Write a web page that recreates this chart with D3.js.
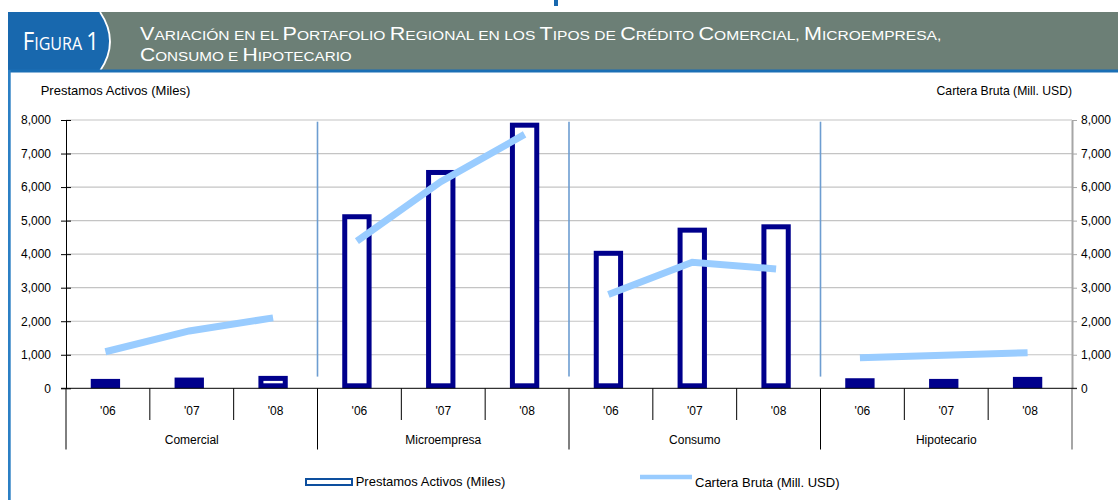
<!DOCTYPE html>
<html><head><meta charset="utf-8">
<script src="https://cdn.jsdelivr.net/npm/d3@7"></script>
<style>body{margin:0;background:#fff}svg{display:block}</style>
</head><body>
<svg id="c" width="1118" height="500"></svg>
<script>
// ---- data ----
const groups = ["Comercial", "Microempresa", "Consumo", "Hipotecario"];
const years = ["'06", "'07", "'08"];
const prestamos = [280, 320, 370, 5190, 6510, 7920, 4100, 4790, 4890, 300, 280, 340];
const cartera = [1090, 1710, 2100, 4390, 6160, 7570, 2800, 3760, 3560, 910, 985, 1060];
const yTicks = [0, 1000, 2000, 3000, 4000, 5000, 6000, 7000, 8000];
const figLabel = "Figura 1";
const titleLines = ["Variación en el Portafolio Regional en los Tipos de Crédito Comercial, Microempresa,", "Consumo e Hipotecario"];
const leftTitle = "Prestamos Activos (Miles)";
const rightTitle = "Cartera Bruta (Mill. USD)";
const legendLabels = ["Prestamos Activos (Miles)", "Cartera Bruta (Mill. USD)"];

// ---- layout ----
const svg = d3.select("#c");
const X0 = 66, X1 = 1072, YT = 120, YB = 388.3;
const FONT = "'Liberation Sans', Arial, sans-serif";
const n = groups.length * years.length;
const x = d3.scaleBand().domain(d3.range(n)).range([X0, X1]).padding(0);
const y = d3.scaleLinear().domain([0, 8000]).range([YB, YT]);
const bw = x.bandwidth();
const barW = bw * 0.35;
const shift = -2.5;
const NAVY = "#00008c";

// ---- header ----
svg.append("rect").attr("x", 554).attr("y", 0).attr("width", 4).attr("height", 6).attr("fill", "#1868ae");
svg.append("rect").attr("x", 8).attr("y", 12).attr("width", 1110).attr("height", 59).attr("fill", "#6c7f76");
svg.append("path").attr("d", "M8,12H100Q120,41.5 100,71H8Z").attr("fill", "#1868ae");
svg.append("path").attr("d", "M100,12Q120,41.5 100,71").attr("fill", "none").attr("stroke", "#fff").attr("stroke-width", 1.8);
svg.append("rect").attr("x", 8).attr("y", 69.5).attr("width", 1110).attr("height", 3).attr("fill", "#1a6fb5");
svg.append("rect").attr("x", 8).attr("y", 70).attr("width", 2.7).attr("height", 430).attr("fill", "#2b7fc4");

function smallCaps(str, x0, yb, big, small, targetW, family) {
  const t = svg.append("text").attr("x", x0).attr("y", yb).attr("fill", "#fff")
    .style("font-family", family);
  let runs = [];
  for (const ch of str) {
    const isBig = /[A-ZÁÉÍÓÚÑ0-9]/.test(ch);
    const last = runs[runs.length - 1];
    if (last && last.big === isBig) last.s += ch; else runs.push({ big: isBig, s: ch });
  }
  runs.forEach(r => t.append("tspan").style("font-size", (r.big ? big : small) + "px").text(r.s.toUpperCase()));
  const w = t.node().getBBox().width;
  const s = targetW / w;
  t.attr("transform", `translate(${x0},0) scale(${s},1) translate(${-x0},0)`);
  return t;
}
const TF = "'Open Sans', 'Noto Sans', sans-serif";
smallCaps(figLabel, 22.7, 50, 25.5, 18.5, 76.3, TF);
smallCaps(titleLines[0], 140, 40.2, 18, 13, 802, FONT);
smallCaps(titleLines[1], 140, 60.8, 18, 13, 212, FONT);

// ---- gridlines ----
svg.append("g").selectAll("line").data(yTicks.filter(d => d > 0)).join("line")
  .attr("x1", X0).attr("x2", X1).attr("y1", d => y(d)).attr("y2", d => y(d))
  .attr("stroke", "#c4c4c4").attr("stroke-width", 1.2);

// ---- group separators ----
const sepIdx = d3.range(1, groups.length).map(g => g * years.length);
svg.append("g").selectAll("line").data(sepIdx).join("line")
  .attr("x1", d => x(d)).attr("x2", d => x(d)).attr("y1", YT + 1.7).attr("y2", YB - 11.7)
  .attr("stroke", "#6d9dd1").attr("stroke-width", 1.6);

// ---- bars ----
const bars = svg.append("g");
prestamos.forEach((v, i) => {
  const bx = x(i) + (bw - barW) / 2 + shift;
  const by = y(v), bh = YB - y(v);
  bars.append("rect").attr("x", bx).attr("y", by).attr("width", barW).attr("height", bh).attr("fill", NAVY);
  if (bh > 12) bars.append("rect").attr("x", bx + 5).attr("y", by + 5).attr("width", barW - 10).attr("height", bh - 10).attr("fill", "#fff");
});

// ---- lines ----
const line = d3.line().x(d => x(d) + bw / 2 + shift).y(d => y(cartera[d]));
groups.forEach((g, gi) => {
  svg.append("path").datum(d3.range(gi * 3, gi * 3 + 3)).attr("d", line)
    .attr("fill", "none").attr("stroke", "#99ccff").attr("stroke-width", 7)
    .attr("stroke-linecap", "butt").attr("stroke-linejoin", "miter");
});

// ---- axes ----
const la = svg.append("g").attr("transform", `translate(${X0},0)`)
  .call(d3.axisLeft(y).tickValues(yTicks).tickFormat(d3.format(",")).tickSize(5).tickSizeOuter(0).tickPadding(10));
la.select(".domain").attr("stroke", "#000");
la.selectAll(".tick line").attr("x1", 5).attr("stroke", "#000");
la.selectAll("text").style("font-family", FONT).style("font-size", "12px").attr("fill", "#000");

const ra = svg.append("g").attr("transform", `translate(${X1},0)`)
  .call(d3.axisRight(y).tickValues(yTicks).tickFormat(d3.format(",")).tickSize(5).tickSizeOuter(0).tickPadding(4));
ra.select(".domain").attr("stroke", "#a6a6a6").attr("stroke-width", 2);
ra.selectAll(".tick line").attr("stroke", "#a6a6a6");
ra.selectAll("text").style("font-family", FONT).style("font-size", "12px").attr("fill", "#000");
svg.append("line").attr("x1", X1).attr("x2", X1).attr("y1", YB).attr("y2", 449.5).attr("stroke", "#a6a6a6").attr("stroke-width", 2);

// x axis
svg.append("line").attr("x1", X0 - 5).attr("x2", X1 + 5).attr("y1", YB).attr("y2", YB).attr("stroke", "#000");
const bounds = d3.range(0, n + 1);
svg.append("g").selectAll("line").data(bounds.filter(b => b < n)).join("line")
  .attr("x1", b => x(b)).attr("x2", b => x(b)).attr("y1", YB)
  .attr("y2", b => b % years.length === 0 ? 449.5 : 420).attr("stroke", "#000");
svg.append("g").selectAll("text").data(d3.range(n)).join("text")
  .attr("x", i => x(i) + bw / 2).attr("y", 415).attr("text-anchor", "middle")
  .style("font-family", FONT).style("font-size", "12px").text(i => years[i % years.length]);
svg.append("g").selectAll("text").data(groups).join("text")
  .attr("x", (g, gi) => x(gi * 3) + bw * 1.5).attr("y", 444).attr("text-anchor", "middle")
  .style("font-family", FONT).style("font-size", "12px").text(g => g);

// axis titles
svg.append("text").attr("x", 40.7).attr("y", 95).style("font-family", FONT).style("font-size", "13px").text(leftTitle);
svg.append("text").attr("x", 1072).attr("y", 95).attr("text-anchor", "end").style("font-family", FONT).style("font-size", "12.2px").text(rightTitle);

// ---- legend ----
svg.append("rect").attr("x", 306).attr("y", 479).attr("width", 46).attr("height", 6)
  .attr("fill", "#fff").attr("stroke", "#0d4f9e").attr("stroke-width", 2);
svg.append("text").attr("x", 355.7).attr("y", 486).style("font-family", FONT).style("font-size", "13px").text(legendLabels[0]);
svg.append("line").attr("x1", 640).attr("x2", 692).attr("y1", 477).attr("y2", 477).attr("stroke", "#99ccff").attr("stroke-width", 4.5);
svg.append("text").attr("x", 695).attr("y", 487).style("font-family", FONT).style("font-size", "13px").text(legendLabels[1]);
</script>
</body></html>
